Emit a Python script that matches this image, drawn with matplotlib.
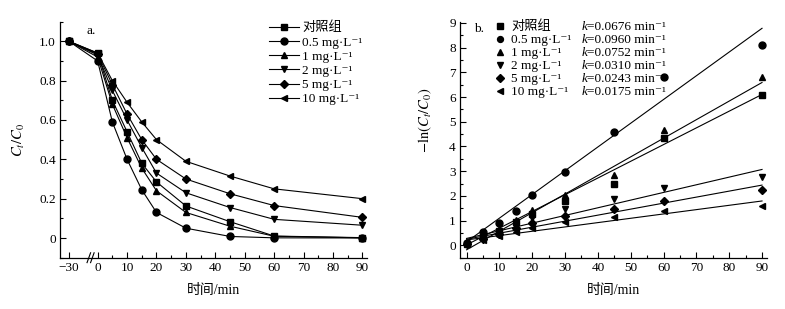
import matplotlib
matplotlib.use("Agg")
import matplotlib.pyplot as plt
import numpy as np
from matplotlib.ticker import FixedLocator, MultipleLocator

FAM = ['Liberation Serif', 'DejaVu Serif', 'Noto Sans CJK SC']
plt.rcParams['font.family'] = FAM
plt.rcParams['mathtext.fontset'] = 'stix'
plt.rcParams['font.size'] = 9.5
plt.rcParams['axes.linewidth'] = 0.9

# ---------------- data ----------------
labels = ['对照组', '0.5 mg·L⁻¹', '1 mg·L⁻¹', '2 mg·L⁻¹', '5 mg·L⁻¹', '10 mg·L⁻¹']
markers = ['s', 'o', '^', 'v', 'D', '<']

time_a = [-30, 0, 5, 10, 15, 20, 30, 45, 60, 90]
ctrl_a = [1.0, 0.94, 0.70, 0.54, 0.38, 0.285, 0.163, 0.083, 0.010, 0.002]
c05_a = [1.0, 0.90, 0.59, 0.40, 0.245, 0.13, 0.05, 0.008, 0.001, 0.0003]
c1_a = [1.0, 0.92, 0.68, 0.51, 0.355, 0.24, 0.13, 0.06, 0.009, 0.001]
c2_a = [1.0, 0.93, 0.75, 0.60, 0.46, 0.33, 0.23, 0.155, 0.095, 0.065]
c5_a = [1.0, 0.935, 0.78, 0.63, 0.50, 0.40, 0.30, 0.225, 0.165, 0.105]
c10_a = [1.0, 0.94, 0.80, 0.69, 0.59, 0.50, 0.39, 0.315, 0.25, 0.20]
series_a = [ctrl_a, c05_a, c1_a, c2_a, c5_a, c10_a]

time_b = [0, 5, 10, 15, 20, 30, 45, 60, 90]
ctrl_b = [0.07, 0.35, 0.60, 0.95, 1.25, 1.80, 2.50, 4.35, 6.10]
c05_b = [0.10, 0.52, 0.92, 1.40, 2.02, 2.97, 4.60, 6.82, 8.12]
c1_b = [0.08, 0.38, 0.67, 1.03, 1.43, 2.05, 2.83, 4.68, 6.82]
c2_b = [0.07, 0.28, 0.50, 0.77, 1.10, 1.47, 1.87, 2.33, 2.75]
c5_b = [0.07, 0.25, 0.46, 0.69, 0.92, 1.20, 1.49, 1.80, 2.25]
c10_b = [0.06, 0.22, 0.37, 0.53, 0.69, 0.94, 1.16, 1.38, 1.61]
series_b = [ctrl_b, c05_b, c1_b, c2_b, c5_b, c10_b]

k_vals = [0.0676, 0.0960, 0.0752, 0.0310, 0.0243, 0.0175]
intercepts = [0.02, 0.14, -0.18, 0.28, 0.25, 0.22]
k_texts = ['=0.0676 min⁻¹', '=0.0960 min⁻¹', '=0.0752 min⁻¹',
           '=0.0310 min⁻¹', '=0.0243 min⁻¹', '=0.0175 min⁻¹']

# position of the broken-axis "-30" point
neg_pos = -9.75

def xmap(t):
    return [neg_pos if v < 0 else v for v in t]

fig = plt.figure(figsize=(7.85, 3.09), dpi=100)
axA = fig.add_axes([0.0764, 0.166, 0.391, 0.764])
axB = fig.add_axes([0.586, 0.166, 0.391, 0.764])

ms = 5
for ys, m, lab in zip(series_a, markers, labels):
    msz = ms - 0.5 if m == 'D' else ms
    axA.plot(xmap(time_a), ys, color='black', lw=0.8, marker=m, ms=msz,
             markerfacecolor='black', markeredgecolor='black', label=lab)

axA.set_xlim(-12.8, 91.5)
axA.set_ylim(-0.1, 1.1)
for sp in ['top', 'right']:
    axA.spines[sp].set_visible(False)
axA.xaxis.set_major_locator(FixedLocator([neg_pos] + list(range(0, 100, 10))))
axA.set_xticklabels(['−30'] + [str(v) for v in range(0, 100, 10)])
axA.xaxis.set_minor_locator(FixedLocator(list(range(5, 90, 10))))
axA.set_yticks([0, 0.2, 0.4, 0.6, 0.8, 1.0])
axA.set_yticklabels(['0', '0.2', '0.4', '0.6', '0.8', '1.0'])
axA.yaxis.set_minor_locator(MultipleLocator(0.1))
axA.tick_params(which='both', direction='in', width=0.8)
axA.tick_params(which='major', length=4, pad=3)
axA.tick_params(which='minor', length=2.5)
axA.set_xlabel('时间/min', labelpad=7, fontsize=10)
axA.set_ylabel('$C_t/C_0$', labelpad=9, fontsize=10.5)
axA.text(0.085, 0.985, 'a.', transform=axA.transAxes, ha='left', va='top')
# axis break marks
for dx in (-3.0, -1.8):
    axA.plot([dx - 0.6, dx + 0.6], [-0.125, -0.075], color='black', lw=0.8,
             clip_on=False)
legA = axA.legend(loc='upper left', bbox_to_anchor=(0.68, 1.0), frameon=False,
                  handlelength=2.3, handletextpad=0.25, labelspacing=0.15,
                  borderpad=0, borderaxespad=0)

# ---------------- panel b ----------------
xfit = np.array([0, 90])
for ys, m, lab, k, b in zip(series_b, markers, labels, k_vals, intercepts):
    msz = ms - 0.5 if m == 'D' else ms
    axB.plot(time_b, ys, linestyle='none', marker=m, ms=msz, color='black', label=lab)
    axB.plot(xfit, k * xfit + b, color='black', lw=0.8)

axB.set_xlim(-2.0, 91.5)
axB.set_ylim(-0.5, 9.05)
for sp in ['top', 'right']:
    axB.spines[sp].set_visible(False)
axB.set_xticks(range(0, 100, 10))
axB.xaxis.set_minor_locator(MultipleLocator(5))
axB.set_yticks(range(0, 10))
axB.yaxis.set_minor_locator(MultipleLocator(0.5))
axB.tick_params(which='both', direction='in', width=0.8)
axB.tick_params(which='major', length=4, pad=3)
axB.tick_params(which='minor', length=2.5)
axB.set_xlabel('时间/min', labelpad=7, fontsize=10)
axB.set_ylabel('$-\\mathrm{ln}(C_t/C_0)$', fontsize=10.5)
axB.yaxis.set_label_coords(-0.085, 0.58)
axB.text(0.045, 0.995, 'b.', transform=axB.transAxes, ha='left', va='top')
legB = axB.legend(loc='upper left', bbox_to_anchor=(0.115, 1.005), frameon=False,
                  handlelength=0.7, handletextpad=0.5, labelspacing=0.06,
                  borderpad=0, borderaxespad=0, markerscale=0.85)
fig.canvas.draw()
for txt, kt in zip(legB.get_texts(), k_texts):
    bb = txt.get_window_extent()
    yc = (bb.y0 + bb.y1) / 2
    ya = axB.transAxes.inverted().transform((0, yc))[1]
    kk = axB.text(0.395, ya, 'k', transform=axB.transAxes, ha='left',
                  va='center', style='italic')
    axB.annotate(kt, xy=(1, 0.5), xycoords=kk, ha='left', va='center')

fig.savefig('out.png', dpi=100)
